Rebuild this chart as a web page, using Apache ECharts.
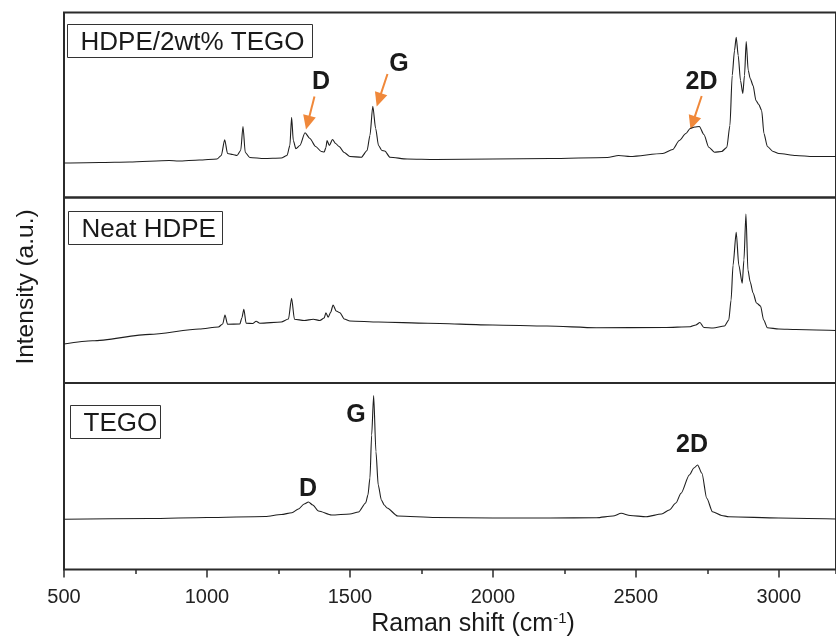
<!DOCTYPE html>
<html><head><meta charset="utf-8">
<script src="https://cdn.jsdelivr.net/npm/echarts@6/dist/echarts.min.js"></script>
<style>html,body{margin:0;padding:0;background:#fff}#c{width:836px;height:637px}</style>
</head><body><div id="c"></div>
<script>
// Raman shift (cm-1) and intensity (a.u.), one pair of arrays per spectrum
const hdpeTegoX = [500,625,729,868,900,973,1035,1050,1062,1072,1090,1105,1118,1126,1134,1150,1200,1260,1280,1290,1296,1302,1311,1325,1343,1360,1380,1400,1410,1416,1420,1428,1439,1450,1462,1480,1500,1540,1560,1570,1580,1590,1600,1612,1622,1640,1700,1800,2000,2200,2400,2440,2480,2594,2629,2652,2675,2690,2706,2722,2738,2755,2775,2800,2818,2829,2837,2845,2851,2858,2866,2874,2880,2886,2893,2900,2910,2920,2930,2940,2948,2960,2980,3000,3060,3120,3200];
const hdpeTegoY = [34.5,35,35.5,37,36.5,37.5,38.5,42,57.7,44,43,42,47,71,45,40,39,39.5,42,52,80.3,57,48.7,52,64.7,59,51,46,45.5,50,57,52,58,54,51,45,41,40.3,47,62,91.3,69,52,47,46.5,40.3,38.5,38,38.5,39,40,42,41,44,48,57,64,69,70.5,71,63,50.3,45.3,46,50,72,122,147,160.3,142,117,104,122,156,127,119,112,97,93,87,64,51,46,44,42,41,41];

const neatHdpeX = [500,600,800,973,1040,1055,1063,1072,1115,1122,1129,1137,1160,1172,1185,1260,1285,1296,1306,1340,1372,1395,1410,1416,1424,1433,1441,1452,1465,1480,1500,1600,1772,2000,2189,2362,2600,2690,2710,2724,2738,2770,2810,2825,2833,2840,2851,2860,2872,2878,2885,2892,2900,2910,2922,2936,2947,2960,3000,3060,3200];
const neatHdpeY = [39,42.2,48.6,54,56,59,68,58.7,59,65,73.7,59.7,59.5,61.7,59.7,61,64,84.7,63.7,62.5,63.7,62.5,65,70.3,65.7,71,78,72,70.3,64,62,61,59.7,58,57,55.3,55.5,56.3,58,60.5,55.5,55,57,63,83,118,150.7,118,99.7,123,169,113,101,90,80,77,63,55.3,54,53.5,52.5];

const tegoX = [500,800,1000,1204,1260,1297,1320,1340,1355,1370,1390,1436,1500,1530,1555,1563,1570,1576,1583,1591,1599,1610,1620,1630,1667,1800,2000,2200,2362,2420,2449,2480,2536,2590,2617,2640,2658,2687,2703,2716,2731,2748,2768,2800,2825,3000,3200];
const tegoY = [50.2,51,52,53,55,56.8,60.5,65.5,67.5,64.5,58.5,54.5,55.5,57.5,66.5,74.5,91.5,134.5,174,117.8,84.5,69.5,64.5,61.5,53.5,52,51.5,51.5,51.8,53.5,56.2,54,52.8,55.5,59.5,66.5,76.2,94.5,101.5,104.5,96.2,71.2,57.8,54,52.8,51.5,50.5];

const panelLabels = ['HDPE/2wt% TEGO', 'Neat HDPE', 'TEGO'];
const xMin = 500, xMax = 3200, xMajor = 500, xMinor = 250;
const xName = 'Raman shift (cm';
const yName = 'Intensity (a.u.)';

const FONT = "'Liberation Sans', Arial, sans-serif";
const ORANGE = '#f0883a';
const FRAME = '#2b2b2b';

const chart = echarts.init(document.getElementById('c'), null, {renderer: 'canvas'});

const gridDefs = [
  {top: 12.5, height: 185},
  {top: 197.5, height: 185.5},
  {top: 383, height: 186.5}
];
const grids = gridDefs.map(g => ({
  left: 64, right: -5, top: g.top, height: g.height,
  show: true, borderColor: FRAME, borderWidth: 2, backgroundColor: 'transparent'
}));

const xAxes = gridDefs.map((g, i) => ({
  type: 'value', gridIndex: i, min: xMin, max: xMax, interval: xMajor,
  position: 'bottom',
  splitLine: {show: false},
  axisLine: {show: false},
  axisTick: {show: i === 2, length: 8, lineStyle: {color: FRAME, width: 1.5}},
  axisLabel: {show: i === 2, showMaxLabel: false, fontSize: 20, margin: 18, color: '#222', fontFamily: FONT,
              formatter: v => String(v)}
}));
// minor ticks on the bottom panel
xAxes.push({
  type: 'value', gridIndex: 2, min: xMin, max: xMax, interval: xMinor, position: 'bottom',
  splitLine: {show: false}, axisLine: {show: false},
  axisTick: {show: true, length: 4.5, lineStyle: {color: FRAME, width: 1.5}},
  axisLabel: {show: false}
});

const yAxes = gridDefs.map((g, i) => ({
  type: 'value', gridIndex: i, min: 0, max: g.height, show: false
}));

function makeSeries(xs, ys, idx) {
  return {
    type: 'line', xAxisIndex: idx, yAxisIndex: idx,
    data: xs.map((v, k) => [v, ys[k]]),
    showSymbol: false, symbol: 'none', smooth: 0.25, smoothMonotone: 'x',
    lineStyle: {color: '#1e1e1e', width: 1.1},
    animation: false
  };
}

function arrow(x1, y1, x2, y2) {
  const dx = x2 - x1, dy = y2 - y1, L = Math.hypot(dx, dy), ux = dx / L, uy = dy / L;
  const hl = 14, hw = 6.5;
  const bx = x2 - ux * hl, by = y2 - uy * hl;
  return [
    {type: 'line', shape: {x1: x1, y1: y1, x2: bx + ux * 2, y2: by + uy * 2}, style: {stroke: ORANGE, lineWidth: 2}},
    {type: 'polygon', shape: {points: [[x2, y2], [bx - uy * hw, by + ux * hw], [bx + uy * hw, by - ux * hw]]}, style: {fill: ORANGE}}
  ];
}

function boxLabel(x1, y1, x2, y2, text) {
  return [
    {type: 'rect', shape: {x: x1, y: y1, width: x2 - x1, height: y2 - y1}, style: {fill: '#fff', stroke: '#333', lineWidth: 1}},
    {type: 'text', x: x1 + 13, y: (y1 + y2) / 2 + 2, style: {text: text, font: '26px ' + FONT, fill: '#1a1a1a', align: 'left', verticalAlign: 'middle'}}
  ];
}

function bold(x, y, t) {
  return {type: 'text', x: x, y: y, style: {text: t, font: 'bold 25px ' + FONT, fill: '#1a1a1a', align: 'center', verticalAlign: 'middle'}};
}

const graphics = [].concat(
  boxLabel(67.5, 24.5, 312.5, 57.5, panelLabels[0]),
  boxLabel(68.5, 211.5, 222.5, 244.5, panelLabels[1]),
  boxLabel(70.5, 405.5, 160.5, 438.5, panelLabels[2]),
  [bold(321, 82, 'D'), bold(399, 64, 'G'), bold(701.5, 82, '2D')],
  arrow(314.5, 96.5, 306, 129.5),
  arrow(387.5, 74, 376.7, 106.5),
  arrow(701.7, 96, 690.5, 129.5),
  [bold(308, 489.5, 'D'), bold(356, 415.5, 'G'), bold(692, 445.5, '2D')],
  [{
    type: 'text', x: 26, y: 287, rotation: Math.PI / 2,
    style: {text: yName, font: '24.5px ' + FONT, fill: '#1a1a1a', align: 'center', verticalAlign: 'middle'}
  }, {
    type: 'text', x: 473, y: 624,
    style: {
      text: '{a|' + xName + '}{s|-1}{a|)}',
      align: 'center', verticalAlign: 'middle',
      rich: {
        a: {fontSize: 25, fontFamily: FONT, fill: '#1a1a1a', color: '#1a1a1a'},
        s: {fontSize: 15, fontFamily: FONT, fill: '#1a1a1a', color: '#1a1a1a', verticalAlign: 'top'}
      }
    }
  }]
);

chart.setOption({
  animation: false,
  backgroundColor: '#fff',
  grid: grids,
  xAxis: xAxes,
  yAxis: yAxes,
  series: [
    makeSeries(hdpeTegoX, hdpeTegoY, 0),
    makeSeries(neatHdpeX, neatHdpeY, 1),
    makeSeries(tegoX, tegoY, 2)
  ],
  graphic: graphics
});
</script>
</body></html>
